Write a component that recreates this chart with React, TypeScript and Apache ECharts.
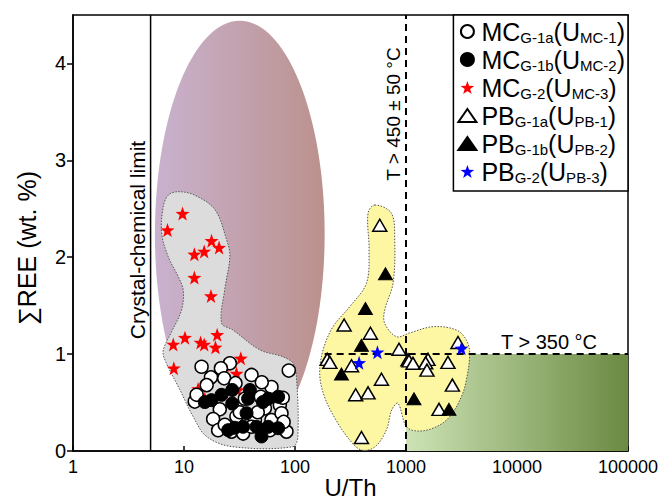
import React, { useEffect, useRef } from "react";
import * as echarts from "echarts";

// ---------- data ----------
const mcG1a: [number, number][] = [
  [14.4, 0.87], [25.9, 0.905], [21.5, 0.853], [40.6, 0.785], [87.9, 0.83], [17.5, 0.76], [23.0, 0.75],
  [16.0, 0.68], [29.1, 0.7], [61.4, 0.66], [12.5, 0.51], [13.0, 0.58], [35.3, 0.54], [49.2, 0.56],
  [73.0, 0.475], [21.0, 0.43], [53.5, 0.44], [18.3, 0.33], [29.7, 0.355], [43.5, 0.32], [61.4, 0.32],
  [75.6, 0.39], [20.3, 0.215], [26.8, 0.2], [34.1, 0.18], [40.6, 0.25], [59.3, 0.215], [83.8, 0.2],
  [23.3, 0.27], [50.2, 0.71], [77.6, 0.55], [79.0, 0.3], [31.8, 0.4], [46.2, 0.4],
];
const mcG1b: [number, number][] = [
  [17.7, 0.525], [21.8, 0.58], [27.2, 0.63], [27.2, 0.49], [39.2, 0.63], [37.8, 0.54], [57.3, 0.54],
  [70.5, 0.56], [36.6, 0.39], [25.0, 0.215], [34.1, 0.25], [45.0, 0.25], [49.9, 0.15], [57.3, 0.25],
  [70.5, 0.235], [15.4, 0.505], [51.3, 0.505], [28.7, 0.24],
];
const mcG2: [number, number][] = [
  [9.7, 2.45], [7.1, 2.28], [17.7, 2.17], [20.7, 2.1], [15.2, 2.06], [12.4, 2.03], [12.4, 1.79],
  [17.5, 1.6], [10.2, 1.17], [19.9, 1.2], [8.0, 1.1], [14.1, 1.12], [15.2, 1.1], [19.2, 1.07],
  [8.1, 0.855], [32.5, 0.957], [23.3, 0.887], [29.7, 0.8], [13.4, 0.64], [15.4, 0.54], [30.4, 0.63],
];
const pbG1a: [number, number][] = [
  [580, 2.33], [277, 1.3], [478, 1.215], [195, 0.946], [206, 0.915], [323, 0.88], [865, 1.05],
  [1042, 0.94], [601, 0.74], [352, 0.58], [455, 0.6], [397, 0.14], [2940, 1.12], [1064, 0.93],
  [1156, 0.905], [1578, 0.946], [1504, 0.91], [1545, 0.835], [2388, 0.915], [2617, 0.68], [1983, 0.43],
];
const pbG1b: [number, number][] = [
  [653, 1.83], [431, 1.47], [397, 1.09], [262, 0.795], [1180, 0.54], [2438, 0.43],
];
const pbG2: [number, number][] = [
  [553, 1.02], [378, 0.91], [3155, 1.06],
];

// fields
const magmaticX = [5.47, 185];
const magmaticY = [0.04, 4.44];
const lowTX = [1000, 100000];
const lowTY = [0, 1];
const mcRegion: [number, number][] = [
  [8.87, 2.676], [12.5, 2.64], [19.0, 2.49], [24.2, 2.18], [25.9, 2.01], [23.3, 1.67], [21.8, 1.32],
  [27.5, 1.25], [48.2, 1.044], [77.6, 0.973], [96.1, 0.905], [103, 0.767], [106, 0.148], [95.5, 0.044],
  [27.5, 0.044], [16.0, 0.148], [12.1, 0.354], [9.2, 0.63], [6.73, 0.94], [6.5, 1.04], [7.73, 1.23],
  [9.5, 1.455], [9.84, 1.66], [8.87, 1.8], [7.21, 2.005], [6.29, 2.25], [6.5, 2.52], [7.21, 2.64],
];
const pbRegion: [number, number][] = [
  [523, 2.539], [739, 2.453], [791, 2.177], [764, 1.731], [643, 1.455], [643, 1.318], [820, 1.18],
  [1079, 1.218], [1750, 1.283], [2843, 1.249], [3497, 1.146], [3745, 1.008], [3497, 0.733], [3154, 0.56],
  [2474, 0.354], [1879, 0.251], [1328, 0.206], [1014, 0.248], [847, 0.492], [743, 0.423], [666, 0.217],
  [523, 0.041], [397, 0.01], [311, 0.114], [228, 0.341], [182, 0.578], [167, 0.8], [179, 1.042],
  [220, 1.283], [311, 1.489], [440, 1.731], [465, 2.074], [455, 2.453],
];
const crystalLimitX = 5;
const temp450X = 1000;
const temp350Y = 1;
const temp350StartX = 185;
const xMin = 1;
const xMax = 100000;
const yMin = 0;
const yMax = 4.5;
const yTicks = [0, 1, 2, 3, 4];

const seriesNames = ["MC_G-1a", "MC_G-1b", "MC_G-2", "PB_G-1a", "PB_G-1b", "PB_G-2"];
const legendMain = ["MC", "MC", "MC", "PB", "PB", "PB"];
const legendSub1 = ["G-1a", "G-1b", "G-2", "G-1a", "G-1b", "G-2"];
const legendSub2 = ["MC-1", "MC-2", "MC-3", "PB-1", "PB-2", "PB-3"];

const FONT = "'Liberation Sans', Arial, Helvetica, sans-serif";

function starPath(): string {
  const pts: string[] = [];
  for (let i = 0; i < 10; i++) {
    const a = -Math.PI / 2 + (i * Math.PI) / 5;
    const r = i % 2 === 0 ? 1 : 0.4;
    pts.push(`${(r * Math.cos(a)).toFixed(4)},${(r * Math.sin(a)).toFixed(4)}`);
  }
  return "path://M" + pts.join("L") + "Z";
}
const STAR = starPath();

export default function App() {
  const ref = useRef<HTMLDivElement>(null);
  useEffect(() => {
    document.body.style.margin = "0";
    if (!ref.current) return;
    const chart = echarts.init(ref.current, undefined, { renderer: "svg" });

    const regionSeries = (name: string, pts: [number, number][], fill: string) => ({
      type: "custom",
      name,
      silent: true,
      z: 1,
      data: [pts[0]],
      encode: { x: 0, y: 1 },
      renderItem: (_p: any, api: any) => ({
        type: "polygon",
        shape: { points: pts.map((d) => api.coord(d)), smooth: 0.35 },
        style: { fill, stroke: "#555", lineWidth: 1, lineDash: [1.5, 1.5] },
      }),
    });

    const option: any = {
      animation: false,
      grid: {
        left: 73, right: 35, top: 15, bottom: 52,
        outerBoundsMode: "none",
        containLabel: false,
        show: true, borderColor: "#000", borderWidth: 1.5,
      },
      xAxis: {
        type: "log", logBase: 10, min: xMin, max: xMax, splitNumber: 5,
        name: "U/Th", nameLocation: "middle", nameGap: 24, nameMoveOverlap: false,
        nameTextStyle: { fontSize: 24, color: "#000", fontFamily: FONT, verticalAlign: "top", lineHeight: 24 },
        axisLine: { show: true, lineStyle: { color: "#000", width: 1.5 } },
        axisTick: { show: true, inside: true, length: 5, lineStyle: { color: "#000", width: 1.5 } },
        minorTick: { show: false },
        splitLine: { show: false },
        axisLabel: {
          color: "#000", fontSize: 18, fontFamily: FONT, margin: 7,
          formatter: (v: number) => String(Math.round(v)),
        },
      },
      yAxis: {
        type: "value", min: yMin, max: yMax, interval: 1,
        axisLine: { show: true, lineStyle: { color: "#000", width: 1.5 } },
        axisTick: { show: true, inside: false, length: 6, customValues: yTicks, lineStyle: { color: "#000", width: 1.5 } },
        splitLine: { show: false },
        axisLabel: { color: "#000", fontSize: 20, fontFamily: FONT, margin: 7, customValues: yTicks },
      },
      legend: {
        data: seriesNames,
        orient: "vertical",
        right: 35, top: 15,
        align: "left",
        backgroundColor: "#fff",
        borderColor: "#000", borderWidth: 1.5, borderRadius: 0,
        padding: [4, 3, 6, 4],
        itemGap: 2,
        itemWidth: 18, itemHeight: 13,
        selectedMode: false,
        formatter: (name: string) => {
          const i = seriesNames.indexOf(name);
          return `{b|${legendMain[i]}}{s|${legendSub1[i]}}{b|(U}{s|${legendSub2[i]}}{b|)}`;
        },
        textStyle: {
          fontFamily: FONT,
          color: "#000",
          rich: {
            b: { fontSize: 25, fontFamily: FONT, color: "#000", lineHeight: 27 },
            s: { fontSize: 15, fontFamily: FONT, color: "#000", lineHeight: 27, verticalAlign: "bottom" },
          },
        },
      },
      series: [
        {
          type: "custom", name: "magmatic", silent: true, z: 1,
          data: [[magmaticX[0], magmaticY[0]]], encode: { x: 0, y: 1 },
          renderItem: (_p: any, api: any) => {
            const a = api.coord([magmaticX[0], magmaticY[0]]);
            const b = api.coord([magmaticX[1], magmaticY[1]]);
            return {
              type: "ellipse",
              shape: { cx: (a[0] + b[0]) / 2, cy: (a[1] + b[1]) / 2, rx: Math.abs(b[0] - a[0]) / 2, ry: Math.abs(b[1] - a[1]) / 2 },
              style: {
                fill: new echarts.graphic.LinearGradient(0, 0, 1, 0, [
                  { offset: 0, color: "#c9b2cf" },
                  { offset: 1, color: "#bb918c" },
                ]),
              },
            };
          },
        },
        {
          type: "custom", name: "lowT", silent: true, z: 1,
          data: [[lowTX[0], lowTY[0]]], encode: { x: 0, y: 1 },
          renderItem: (_p: any, api: any) => {
            const a = api.coord([lowTX[0], lowTY[1]]);
            const b = api.coord([lowTX[1], lowTY[0]]);
            return {
              type: "rect",
              shape: { x: a[0], y: a[1], width: b[0] - a[0], height: b[1] - a[1] },
              style: {
                fill: new echarts.graphic.LinearGradient(0, 0, 1, 0, [
                  { offset: 0, color: "#cde3b6" },
                  { offset: 1, color: "#6b8a42" },
                ]),
              },
            };
          },
        },
        regionSeries("mcRegion", mcRegion, "#dcdcdc"),
        regionSeries("pbRegion", pbRegion, "#fdf6a3"),
        {
          type: "custom", name: "lines", silent: true, z: 2,
          data: [[temp450X, temp350Y]], encode: { x: 0, y: 1 },
          renderItem: (_p: any, api: any) => {
            const c0 = api.coord([crystalLimitX, yMin]);
            const c1 = api.coord([crystalLimitX, yMax]);
            const v0 = api.coord([temp450X, yMin]);
            const v1 = api.coord([temp450X, yMax]);
            const h0 = api.coord([temp350StartX, temp350Y]);
            const h1 = api.coord([xMax, temp350Y]);
            const dash = { stroke: "#000", lineWidth: 2, lineDash: [7, 5] };
            return {
              type: "group",
              children: [
                { type: "line", shape: { x1: c0[0], y1: c0[1], x2: c1[0], y2: c1[1] }, style: { stroke: "#000", lineWidth: 1.5 } },
                { type: "line", shape: { x1: v0[0], y1: v0[1], x2: v1[0], y2: v1[1] }, style: dash },
                { type: "line", shape: { x1: h0[0], y1: h0[1], x2: h1[0], y2: h1[1] }, style: dash },
              ],
            };
          },
        },
        {
          type: "scatter", name: "MC_G-2", data: mcG2, symbol: STAR, symbolSize: 14, z: 3,
          itemStyle: { color: "#ff0000", opacity: 1 },
        },
        {
          type: "scatter", name: "MC_G-1a", data: mcG1a, symbol: "circle", symbolSize: 13, z: 3,
          itemStyle: { color: "#fff", borderColor: "#000", borderWidth: 1.5, opacity: 1 },
        },
        {
          type: "scatter", name: "MC_G-1b", data: mcG1b, symbol: "circle", symbolSize: 13, z: 3,
          itemStyle: { color: "#000", borderColor: "#000", borderWidth: 1, opacity: 1 },
        },
        {
          type: "scatter", name: "PB_G-1a", data: pbG1a, symbol: "triangle", symbolSize: [14, 12], z: 3,
          itemStyle: { color: "#fff", borderColor: "#000", borderWidth: 1.5, opacity: 1 },
        },
        {
          type: "scatter", name: "PB_G-1b", data: pbG1b, symbol: "triangle", symbolSize: [14, 12], z: 3,
          itemStyle: { color: "#000", borderColor: "#000", borderWidth: 1, opacity: 1 },
        },
        {
          type: "scatter", name: "PB_G-2", data: pbG2, symbol: STAR, symbolSize: 14, z: 3,
          itemStyle: { color: "#0000ff", opacity: 1 },
        },
      ],
      graphic: [
        {
          type: "text", x: 27, y: 248, rotation: Math.PI / 2, silent: true,
          style: { text: "∑REE (wt. %)", fontSize: 25, fontFamily: FONT, fill: "#000", align: "center", verticalAlign: "middle" },
        },
        {
          type: "text", x: 137, y: 240, rotation: Math.PI / 2, silent: true,
          style: { text: "Crystal-chemical limit", fontSize: 21, fontFamily: FONT, fill: "#000", align: "center", verticalAlign: "middle" },
        },
        {
          type: "text", x: 194, y: 132, silent: true,
          style: { text: "Magmatic/\nMetamorphic", fontSize: 21, lineHeight: 23, fontFamily: FONT, fill: "#000", align: "left", verticalAlign: "top" },
        },
        {
          type: "text", x: 393, y: 114, rotation: Math.PI / 2, silent: true,
          style: { text: "T > 450 ± 50 °C", fontSize: 19, fontFamily: FONT, fill: "#000", align: "center", verticalAlign: "middle" },
        },
        {
          type: "text", x: 549, y: 342, silent: true,
          style: { text: "T > 350 °C", fontSize: 20, fontFamily: FONT, fill: "#000", align: "center", verticalAlign: "middle" },
        },
        {
          type: "text", x: 544, y: 401, silent: true,
          style: { text: "Low-T\nhydrothermal", fontSize: 25, lineHeight: 26, fontFamily: FONT, fill: "#000", align: "center", verticalAlign: "middle" },
        },
      ],
    };
    chart.setOption(option);
    return () => chart.dispose();
  }, []);
  return <div ref={ref} style={{ width: 663, height: 503 }} />;
}
